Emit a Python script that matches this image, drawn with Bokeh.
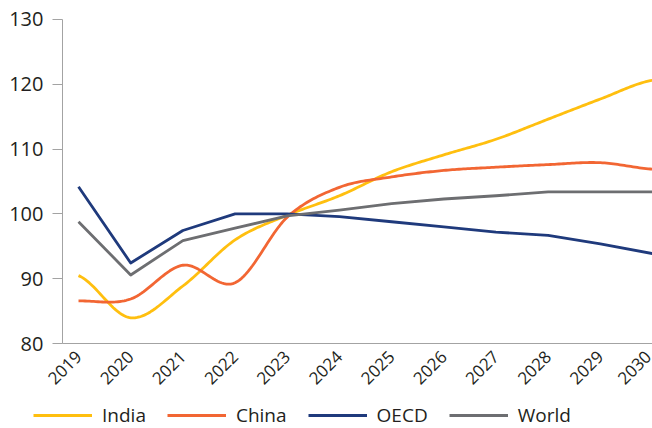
import math
from bokeh.plotting import figure
from bokeh.models import Range1d, FixedTicker, Legend, LegendItem
from bokeh.embed import file_html
from bokeh.resources import INLINE

# ---- data ----
years = [2019, 2020, 2021, 2022, 2023, 2024, 2025, 2026, 2027, 2028, 2029, 2030]
year_labels = ["2019", "2020", "2021", "2022", "2023", "2024",
               "2025", "2026", "2027", "2028", "2029", "2030"]
india = [90.5, 84.0, 88.9, 96.0, 99.8, 102.8, 106.5, 109.1, 111.5, 114.6, 117.7, 120.6]
china = [86.6, 86.9, 92.1, 89.4, 99.5, 104.1, 105.7, 106.7, 107.2, 107.6, 107.9, 106.9]
oecd = [104.2, 92.45, 97.45, 100.0, 100.0, 99.6, 98.8, 98.0, 97.2, 96.7, 95.4, 93.9]
world = [98.8, 90.6, 95.9, 97.8, 99.7, 100.6, 101.6, 102.3, 102.8, 103.4, 103.4, 103.4]
y_ticks = [80, 90, 100, 110, 120, 130]

series_names = ["India", "China", "OECD", "World"]
colors = ["#FFBF0F", "#F26633", "#1F3A7C", "#6D6E71"]
smoothed = [True, True, False, False]

FONT = "Open Sans"
TEXT = "#231f20"
AXIS = "#a3a3a3"

# plot area: axes are pinned inside a frame that fills the whole canvas,
# so the legend below the year labels is not clipped
W, H = 652, 428
X_LO, X_HI = 2017.505, 2030.0       # view range (x axis starts at X_AXIS_START)
X_AXIS_START = 2018.693
Y_LO, Y_HI = 66.95, 132.88          # view range (y axis spans 80..130)


def smooth_curve(xs, ys, n=24):
    """Catmull-Rom rendering of a series (Excel-like 'smoothed line')."""
    px, py = [], []
    m = len(xs)
    for i in range(m - 1):
        x0, y0 = (xs[i - 1], ys[i - 1]) if i > 0 else (2 * xs[i] - xs[i + 1], ys[i])
        x1, y1 = xs[i], ys[i]
        x2, y2 = xs[i + 1], ys[i + 1]
        x3, y3 = (xs[i + 2], ys[i + 2]) if i + 2 < m else (2 * xs[i + 1] - xs[i], ys[i + 1])
        for k in range(n):
            t = k / n
            t2, t3 = t * t, t * t * t
            def cr(a, b, c, d):
                return 0.5 * ((2 * b) + (-a + c) * t + (2 * a - 5 * b + 4 * c - d) * t2
                              + (-a + 3 * b - 3 * c + d) * t3)
            px.append(cr(x0, x1, x2, x3))
            py.append(cr(y0, y1, y2, y3))
    px.append(xs[-1])
    py.append(ys[-1])
    return px, py


p = figure(width=W, height=H, output_backend="svg", toolbar_location=None,
           x_range=Range1d(X_LO, X_HI), y_range=Range1d(Y_LO, Y_HI),
           min_border=0, min_border_left=0, min_border_right=0,
           min_border_top=0, min_border_bottom=0)
p.outline_line_color = None
p.xgrid.visible = False
p.ygrid.visible = False
p.background_fill_color = "white"
p.border_fill_color = "white"

# x axis pinned at y = 80
p.xaxis.fixed_location = y_ticks[0]
p.xaxis.bounds = (X_AXIS_START, X_HI)
p.xaxis.ticker = FixedTicker(ticks=years)
p.xaxis.major_label_overrides = {y: lab for y, lab in zip(years, year_labels)}
p.xaxis.major_label_orientation = math.pi / 4
p.xaxis.major_tick_in = 0
p.xaxis.major_tick_out = 0
p.xaxis.minor_tick_in = 0
p.xaxis.minor_tick_out = 0
p.xaxis.major_label_standoff = 10
p.xaxis.axis_line_color = AXIS
p.xaxis.major_label_text_font = FONT
p.xaxis.major_label_text_font_size = "17px"
p.xaxis.major_label_text_color = TEXT

# y axis pinned at the left edge of the plotted area
p.yaxis.fixed_location = X_AXIS_START
p.yaxis.bounds = (y_ticks[0], y_ticks[-1])
p.yaxis.ticker = FixedTicker(ticks=y_ticks)
p.yaxis.major_tick_in = 0
p.yaxis.major_tick_out = 10
p.yaxis.minor_tick_in = 0
p.yaxis.minor_tick_out = 0
p.yaxis.major_tick_line_color = AXIS
p.yaxis.axis_line_color = AXIS
p.yaxis.major_label_standoff = 9
p.yaxis.major_label_text_font = FONT
p.yaxis.major_label_text_font_size = "20px"
p.yaxis.major_label_text_color = TEXT

# lines
all_series = [india, china, oecd, world]
items = []
for name, vals, col, sm in zip(series_names, all_series, colors, smoothed):
    if sm:
        xs, ys = smooth_curve(years, vals)
    else:
        xs, ys = years, vals
    r = p.line(xs, ys, line_color=col, line_width=2.8, line_join="round")
    items.append(LegendItem(label=name, renderers=[r]))

legend = Legend(items=items, orientation="horizontal", location=(33, 0),
                glyph_width=59, glyph_height=20, label_standoff=10, spacing=21,
                padding=0, margin=0, border_line_color=None,
                background_fill_alpha=0,
                label_text_font=FONT, label_text_font_size="19px",
                label_text_color=TEXT)
p.add_layout(legend, "center")

open("out.html", "w").write(file_html(p, INLINE))
